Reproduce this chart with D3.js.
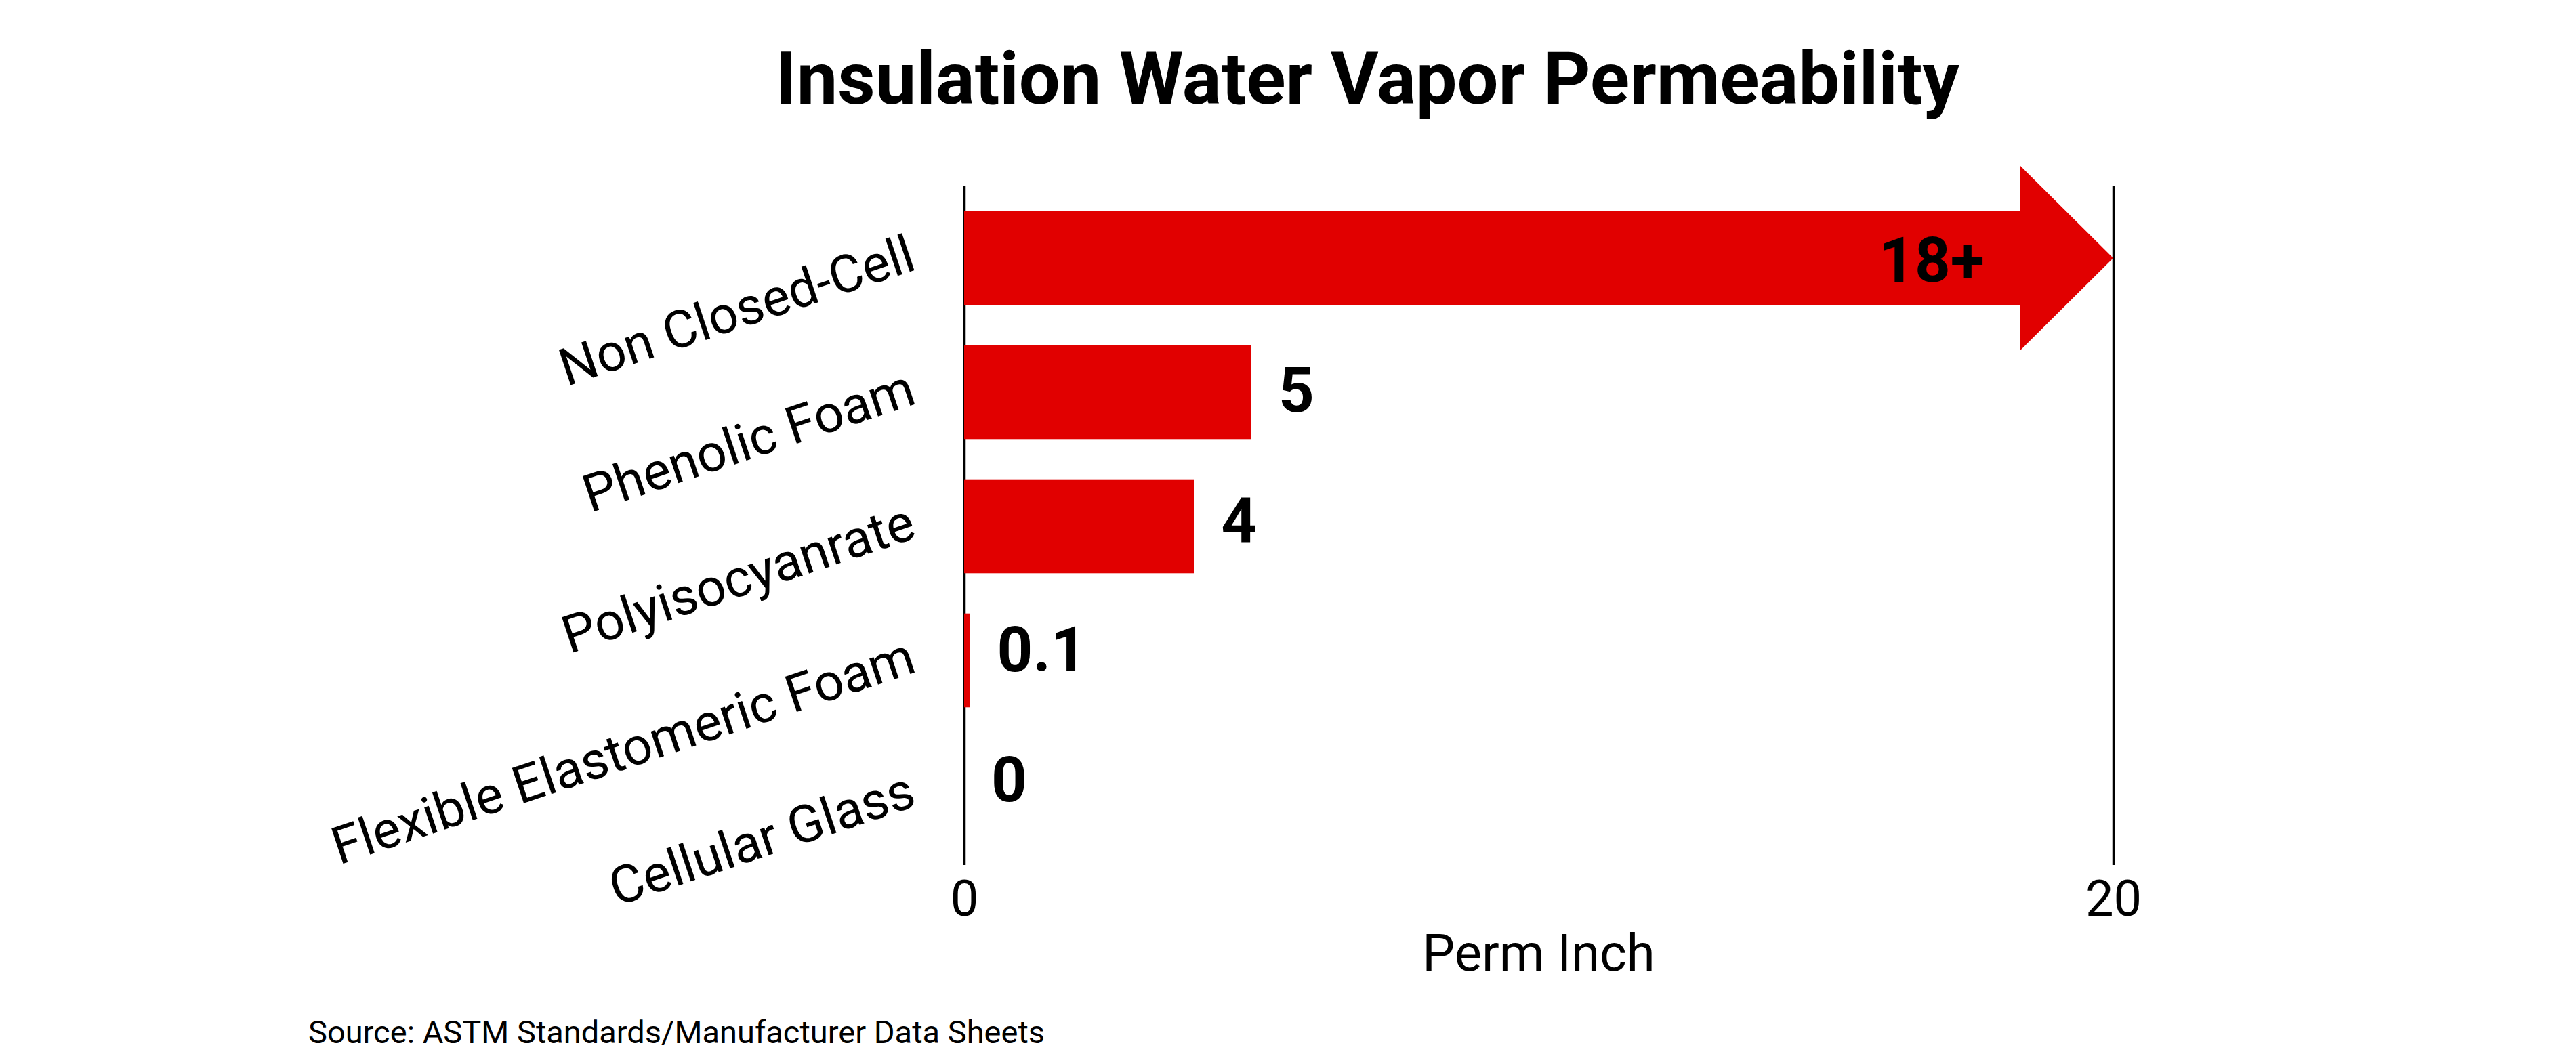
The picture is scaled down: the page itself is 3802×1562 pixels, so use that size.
<!DOCTYPE html>
<html>
<head>
<meta charset="utf-8">
<script src="https://cdn.jsdelivr.net/npm/d3@7"></script>
<style>
  body { margin: 0; background: #fff; }
  svg text { font-family: Roboto, "Noto Sans", sans-serif; fill: #000; }
</style>
</head>
<body>
<div id="chart"></div>
<script>
// data
var categories = ["Non Closed-Cell", "Phenolic Foam", "Polyisocyanrate", "Flexible Elastomeric Foam", "Cellular Glass"];
var values = [20, 5, 4, 0.1, 0];
var valueLabels = ["18+", "5", "4", "0.1", "0"];
var arrowRows = ["Non Closed-Cell"];   // drawn as an open-ended arrow
var xTicks = [0, 20];

var width = 3802;
var height = 1562;
var barColor = "#e10000";
var plotTop = 275;
var plotBottom = 1277;

var svg = d3.select("#chart")
  .append("svg")
  .attr("width", width)
  .attr("height", height);

var x = d3.scaleLinear().domain([0, 20]).range([1423, 3119]);
var y = d3.scaleBand().domain(categories).range([282, 1272]).paddingInner(0.3).paddingOuter(0.15);
// the value labels sit on a slightly tighter spacing than the bars
var labelY = d3.scalePoint().domain(categories).range([383, 1150]);

// title
svg.append("text")
  .attr("x", 2018)
  .attr("y", 153)
  .attr("text-anchor", "middle")
  .attr("font-size", 108)
  .attr("font-weight", "bold")
  .text("Insulation Water Vapor Permeability");

// x axis with full-height lines at 0 and 20
var xAxis = d3.axisBottom(x)
  .tickValues(xTicks)
  .tickSizeInner(-(plotBottom - plotTop))
  .tickSizeOuter(0)
  .tickPadding(22);

var gx = svg.append("g")
  .attr("transform", "translate(0," + plotBottom + ")")
  .call(xAxis);
gx.select(".domain").remove();
gx.selectAll(".tick line").attr("stroke", "#000").attr("stroke-width", 3.5);
gx.selectAll(".tick text").attr("font-size", 74).attr("font-family", "Roboto");

// axis title
svg.append("text")
  .attr("x", (x(0) + x(20)) / 2)
  .attr("y", 1433)
  .attr("text-anchor", "middle")
  .attr("font-size", 76)
  .text("Perm Inch");

// category labels, tilted
var gy = svg.append("g")
  .attr("transform", "translate(" + x(0) + ",0)")
  .call(d3.axisLeft(y).tickSize(0).tickPadding(0));
gy.select(".domain").remove();
gy.selectAll(".tick text")
  .attr("x", 0)
  .attr("dy", 0)
  .attr("font-size", 77)
  .attr("font-family", "Roboto")
  .attr("text-anchor", "end")
  .attr("transform", "translate(-68,16) rotate(-18.5)");

var rows = categories.map(function(c, i) {
  return { cat: c, value: values[i], label: valueLabels[i] };
});

// plain bars
svg.selectAll("rect.bar")
  .data(rows.filter(function(d) { return arrowRows.indexOf(d.cat) < 0; }))
  .enter()
  .append("rect")
  .attr("class", "bar")
  .attr("x", x(0))
  .attr("y", function(d) { return y(d.cat); })
  .attr("width", function(d) { return x(d.value) - x(0); })
  .attr("height", y.bandwidth())
  .attr("fill", barColor);

// arrow bar: shaft plus head, tip at the value
var headLen = 138;
var headHalf = 137;
svg.selectAll("path.arrow")
  .data(rows.filter(function(d) { return arrowRows.indexOf(d.cat) >= 0; }))
  .enter()
  .append("path")
  .attr("class", "arrow")
  .attr("fill", barColor)
  .attr("d", function(d) {
    var y0 = y(d.cat), bw = y.bandwidth(), cy = y0 + bw / 2;
    var tip = x(d.value), base = tip - headLen;
    return "M" + x(0) + "," + y0 +
      "L" + base + "," + y0 +
      "L" + base + "," + (cy - headHalf) +
      "L" + tip + "," + cy +
      "L" + base + "," + (cy + headHalf) +
      "L" + base + "," + (y0 + bw) +
      "L" + x(0) + "," + (y0 + bw) + "Z";
  });

// value labels
svg.selectAll("text.val")
  .data(rows)
  .enter()
  .append("text")
  .attr("class", "val")
  .attr("x", function(d) {
    return arrowRows.indexOf(d.cat) >= 0 ? x(d.value) - headLen - 52 : x(d.value) + 40;
  })
  .attr("y", function(d) { return labelY(d.cat); })
  .attr("dy", "0.36em")
  .attr("text-anchor", function(d) { return arrowRows.indexOf(d.cat) >= 0 ? "end" : "start"; })
  .attr("font-size", 92)
  .attr("font-weight", "bold")
  .text(function(d) { return d.label; });

// source note
svg.append("text")
  .attr("x", 455)
  .attr("y", 1540)
  .attr("font-size", 47)
  .text("Source: ASTM Standards/Manufacturer Data Sheets");
</script>
</body>
</html>
